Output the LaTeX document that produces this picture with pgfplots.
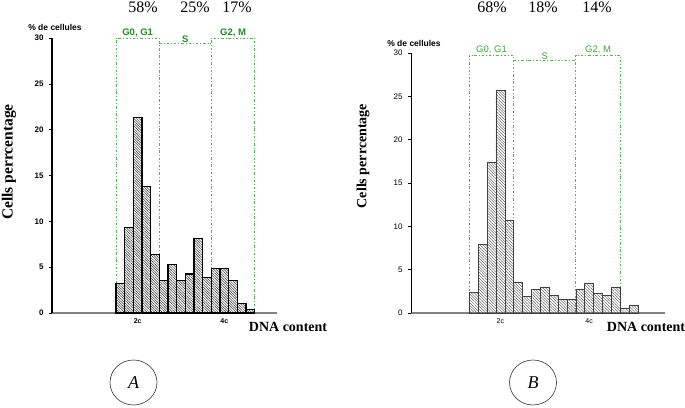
\documentclass[border=0pt]{standalone}
\usepackage{pgfplots}
\usepackage{pgfplotstable}
\pgfplotsset{compat=1.18}
\usepackage{fontspec}
\setmainfont{Liberation Serif}
\setsansfont{Liberation Sans}
\usetikzlibrary{patterns.meta}
\definecolor{gline}{RGB}{80,180,80}
\definecolor{gtextA}{RGB}{30,140,30}
\definecolor{gtextB}{RGB}{60,165,60}
\definecolor{axgray}{RGB}{130,130,130}
\pgfplotsset{
  common/.style={
    scale only axis, clip=false,
    axis x line=bottom, axis y line=left,
    axis line style={-},
    x axis line style={axgray, line width=1.3pt},
    ymin=0, ymax=30, ytick={0,5,...,30},
    tick align=outside, major tick length=3pt,
    xticklabels={2c,4c},
    xtick style={draw=none},
    ytick style={black, line width=0.6pt},
    /pgf/number format/assume math mode=true,
    yticklabel style={font=\fontsize{8}{9}\sffamily\bfseries, xshift=-2pt},
    xticklabel style={font=\fontsize{7}{8}\sffamily\bfseries, yshift=1pt},
  },
}
\tikzset{
  gl/.style={gline, line width=0.75pt, dash pattern=on 2.5pt off 2pt on 0.8pt off 2pt},
  glabA/.style={font=\fontsize{9.5}{10}\sffamily\bfseries, text=gtextA, anchor=south, inner sep=0.6pt},
  glabB/.style={font=\fontsize{9.5}{10}\sffamily, text=gtextB, anchor=south, inner sep=1pt},
}
\begin{document}
\pgfplotstableread{
x y
0.5 3.2
1.5 9.3
2.5 21.3
3.5 13.8
4.5 6.4
5.5 3.5
6.5 5.3
7.5 3.5
8.5 4.25
9.5 8.1
10.5 3.9
11.5 4.9
12.5 4.9
13.5 3.5
14.5 1.05
15.5 0.35
}\dataA
\pgfplotstableread{
x y
0.5 2.35
1.5 7.9
2.5 17.4
3.5 25.7
4.5 10.7
5.5 3.5
6.5 1.96
7.5 2.7
8.5 3.0
9.5 2.0
10.5 1.6
11.5 1.6
12.5 2.7
13.5 3.4
14.5 2.3
15.5 2.0
16.5 3.0
17.5 0.55
18.5 0.9
}\dataB
\begin{tikzpicture}[x=1pt,y=1pt]
\useasboundingbox (0,0) rectangle (685,407);
\begin{axis}[common,
  xtick={2.5,12.5},
  at={(52pt,94pt)}, anchor=south west,
  width=225pt, height=275pt,
  xmin=-7.38, xmax=18.57,
  y axis line style={black, line width=1.3pt},
]
\addplot[gl] coordinates {(0,0) (0,30) (5,30) (5,0)};
\addplot[gl] coordinates {(5,29.4) (11,29.4)};
\addplot[gl] coordinates {(11,0) (11,30) (16,30) (16,0)};
\addplot[ybar, bar width=1, bar shift=0pt, draw=black, line width=1.1pt,
  pattern={Lines[angle=-45, distance=1.8pt, line width=0.5pt]}, pattern color=black!80]
  table[x=x,y=y] {\dataA};
\node[glabA] at (axis cs:2.5,30) {G0, G1};
\node[glabA] at (axis cs:8,29.4) {S};
\node[glabA] at (axis cs:13.5,30) {G2, M};
\end{axis}
\begin{axis}[common,
  xtick={3.5,13.5},
  at={(411pt,94pt)}, anchor=south west,
  width=254pt, height=260pt,
  xmin=-6.57, xmax=22.04,
  y axis line style={black, line width=0.8pt},
  yticklabel style={font=\fontsize{8}{9}\sffamily},
  xticklabel style={font=\fontsize{7}{8}\sffamily},
]
\addplot[gl] coordinates {(0,0) (0,29.75) (5,29.75) (5,0)};
\addplot[gl] coordinates {(5,29.1) (12,29.1)};
\addplot[gl] coordinates {(12,0) (12,29.75) (17,29.75) (17,0)};
\addplot[ybar, bar width=1, bar shift=0pt, draw=black!75, line width=0.6pt,
  pattern={Lines[angle=-45, distance=2pt, line width=0.35pt]}, pattern color=black!75]
  table[x=x,y=y] {\dataB};
\node[glabB] at (axis cs:2.5,29.75) {G0, G1};
\node[glabB] at (axis cs:8.5,29.1) {S};
\node[glabB] at (axis cs:14.5,29.75) {G2, M};
\end{axis}
\node[rotate=90, font=\fontsize{15.5}{16}\selectfont\bfseries] at (9,245) {Cells perrcentage};
\node[rotate=90, font=\fontsize{14}{15}\selectfont\bfseries] at (363,251) {Cells perrcentage};
\node[font=\fontsize{14}{15}\selectfont\bfseries] at (288,80) {DNA content};
\node[font=\fontsize{14}{15}\selectfont\bfseries] at (646,80) {DNA content};
\node[font=\fontsize{8.5}{9}\sffamily\bfseries] at (55,380) {\% de cellules};
\node[font=\fontsize{8.5}{9}\sffamily\bfseries] at (414,364) {\% de cellules};
\foreach \xx/\pc in {143/58, 195/25, 237/17, 492/68, 543/18, 597/14}
  \node[font=\fontsize{16}{17}\selectfont] at (\xx,400) {\pc\%};
\draw[line width=0.6pt, black!80] (133.5,24.5) ellipse [x radius=23.5, y radius=22.5];
\draw[line width=0.6pt, black!80] (533,24.5) ellipse [x radius=23.5, y radius=22.5];
\node[font=\fontsize{18}{19}\selectfont\itshape] at (133.5,24.5) {A};
\node[font=\fontsize{18}{19}\selectfont\itshape] at (533,24.5) {B};
\end{tikzpicture}
\end{document}
